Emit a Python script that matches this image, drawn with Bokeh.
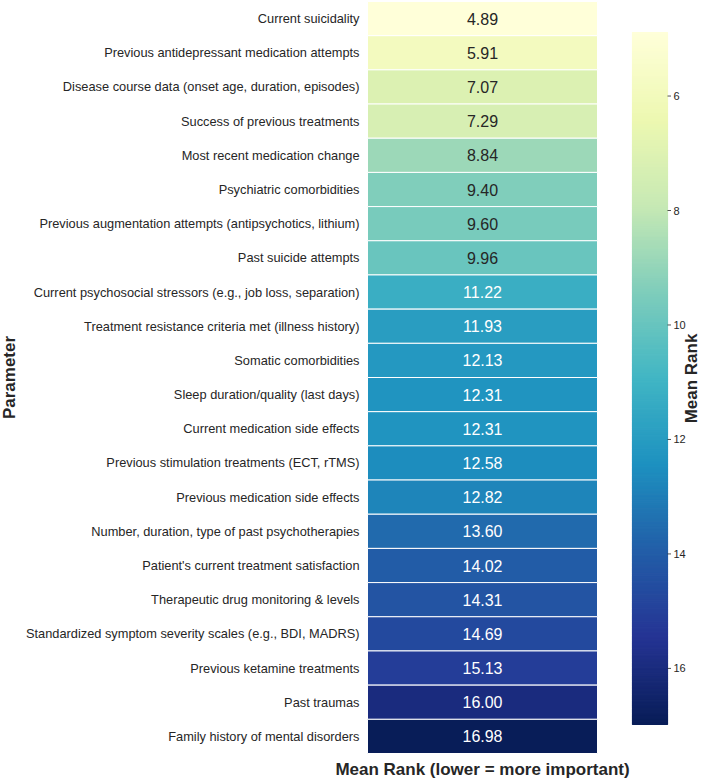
import numpy as np
from bokeh.plotting import figure
from bokeh.models import ColumnDataSource, Range1d, LinearColorMapper
from bokeh.transform import transform
from bokeh.core.properties import value
from bokeh.embed import file_html
from bokeh.resources import INLINE

# ---------------- data ----------------
parameters = [
    "Current suicidality",
    "Previous antidepressant medication attempts",
    "Disease course data (onset age, duration, episodes)",
    "Success of previous treatments",
    "Most recent medication change",
    "Psychiatric comorbidities",
    "Previous augmentation attempts (antipsychotics, lithium)",
    "Past suicide attempts",
    "Current psychosocial stressors (e.g., job loss, separation)",
    "Treatment resistance criteria met (illness history)",
    "Somatic comorbidities",
    "Sleep duration/quality (last days)",
    "Current medication side effects",
    "Previous stimulation treatments (ECT, rTMS)",
    "Previous medication side effects",
    "Number, duration, type of past psychotherapies",
    "Patient's current treatment satisfaction",
    "Therapeutic drug monitoring & levels",
    "Standardized symptom severity scales (e.g., BDI, MADRS)",
    "Previous ketamine treatments",
    "Past traumas",
    "Family history of mental disorders",
]
mean_rank = [4.89, 5.91, 7.07, 7.29, 8.84, 9.40, 9.60, 9.96, 11.22, 11.93, 12.13,
             12.31, 12.31, 12.58, 12.82, 13.60, 14.02, 14.31, 14.69, 15.13, 16.00, 16.98]
colorbar_ticks = [6, 8, 10, 12, 14, 16]
x_title = "Mean Rank (lower = more important)"
y_title = "Parameter"
cb_title = "Mean Rank"

# ---------------- colormap (YlGnBu) ----------------
ylgnbu = ["#ffffd9", "#edf8b1", "#c7e9b4", "#7fcdbb", "#41b6c4",
          "#1d91c0", "#225ea8", "#253494", "#081d58"]

def hex2rgb(h):
    return np.array([int(h[i:i + 2], 16) for i in (1, 3, 5)], dtype=float) / 255.0

anchors = np.array([hex2rgb(c) for c in ylgnbu])
pos = np.linspace(0, 1, len(ylgnbu))
N = 256
tt = np.linspace(0, 1, N)
rgb = np.stack([np.interp(tt, pos, anchors[:, k]) for k in range(3)], axis=1)
palette = ["#%02x%02x%02x" % tuple(int(round(v * 255)) for v in c) for c in rgb]

vmin, vmax = min(mean_rank), max(mean_rank)
mapper = LinearColorMapper(palette=palette, low=vmin, high=vmax)

def lum(c):
    c = np.where(c <= 0.03928, c / 12.92, ((c + 0.055) / 1.055) ** 2.4)
    return 0.2126 * c[0] + 0.7152 * c[1] + 0.0722 * c[2]

text_colors = []
for v in mean_rank:
    f = (v - vmin) / (vmax - vmin)
    c = np.array([np.interp(f, pos, anchors[:, k]) for k in range(3)])
    text_colors.append("#262626" if lum(c) > 0.408 else "#ffffff")

FONT = value("Liberation Sans")
DARK = "#262626"

# ---------------- layout geometry (pixels) ----------------
W, H = 702, 780
HM_L, HM_R, HM_T, HM_B = 367, 597, 1, 753   # heatmap block
CB_L, CB_R, CB_T, CB_B = 632, 667, 32, 724  # colour bar block
HM_W = HM_R - HM_L
n = len(parameters)
row_h = (HM_B - HM_T) / n

def px_x(px):                 # pixel column -> x data (heatmap column = [0, 1])
    return (px - HM_L) / HM_W

k_cb = (vmax - vmin) / (CB_B - CB_T)        # colour-bar value per pixel

p = figure(width=W, height=H, output_backend="svg", toolbar_location=None,
           x_range=Range1d(px_x(0), px_x(W)),
           y_range=Range1d(-(H - HM_B) / row_h, n + HM_T / row_h),
           x_axis_location=None, y_axis_location=None,
           min_border=0, min_border_left=0, min_border_right=0,
           min_border_top=0, min_border_bottom=0)
p.extra_y_ranges = {"cb": Range1d(start=vmax + (H - CB_B) * k_cb, end=vmin - CB_T * k_cb)}
p.outline_line_color = None
p.grid.visible = False
p.background_fill_color = "white"
p.border_fill_color = "white"

row_y = [n - i - 0.5 for i in range(n)]      # first parameter at the top
src = ColumnDataSource(dict(
    y=row_y, val=mean_rank, param=parameters,
    txt=["%.2f" % v for v in mean_rank], tc=text_colors, x=[0.5] * n,
))

# colour bar (drawn first; thin overlapping bands avoid seams)
edges = np.linspace(vmin, vmax, N + 1)
cb_src = ColumnDataSource(dict(bottom=edges[:-1], top=edges[1:],
                               mid=(edges[:-1] + edges[1:]) / 2))
p.quad(left=px_x(CB_L), right=px_x(CB_R), bottom="bottom", top="top", source=cb_src,
       y_range_name="cb", fill_color=transform("mid", mapper),
       line_color=transform("mid", mapper), line_width=1.2)

# heatmap cells + values
p.rect(x="x", y="y", width=1, height=1, source=src,
       fill_color=transform("val", mapper), line_color="white", line_width=1)
p.text(x="x", y="y", text="txt", source=src, text_color="tc",
       text_align="center", text_baseline="middle", text_font_size="16px",
       text_font=FONT)

# row labels
p.text(x=px_x(HM_L - 8), y="y", text="param", source=src, text_color=DARK,
       text_align="right", text_baseline="middle", text_font_size="12.8px",
       text_font=FONT)

# y title
p.text(x=[px_x(9)], y=[n / 2], text=[y_title], angle=np.pi / 2,
       text_align="center", text_baseline="middle", text_font_size="17px",
       text_font_style="bold", text_color=DARK, text_font=FONT)

# x title
p.text(x=[0.5], y=[vmin + (769 - CB_T) * k_cb], y_range_name="cb", text=[x_title],
       text_align="center", text_baseline="middle", text_font_size="17px",
       text_font_style="bold", text_color=DARK, text_font=FONT)

# colour bar ticks
tick_src = ColumnDataSource(dict(t=colorbar_ticks, lab=[str(t) for t in colorbar_ticks]))
p.segment(x0=px_x(CB_R), x1=px_x(CB_R + 3.5), y0="t", y1="t", source=tick_src,
          y_range_name="cb", line_color=DARK, line_width=0.8)
p.text(x=px_x(CB_R + 6), y="t", text="lab", source=tick_src, y_range_name="cb",
       text_align="left", text_baseline="middle", text_font_size="11px",
       text_color=DARK, text_font=FONT)

# colour bar title (reads bottom to top)
p.text(x=[px_x(691)], y=[(vmin + vmax) / 2], y_range_name="cb", text=[cb_title],
       angle=np.pi / 2, text_align="center", text_baseline="middle",
       text_font_size="17px", text_font_style="bold", text_color=DARK, text_font=FONT)

open("out.html", "w").write(file_html(p, INLINE))
